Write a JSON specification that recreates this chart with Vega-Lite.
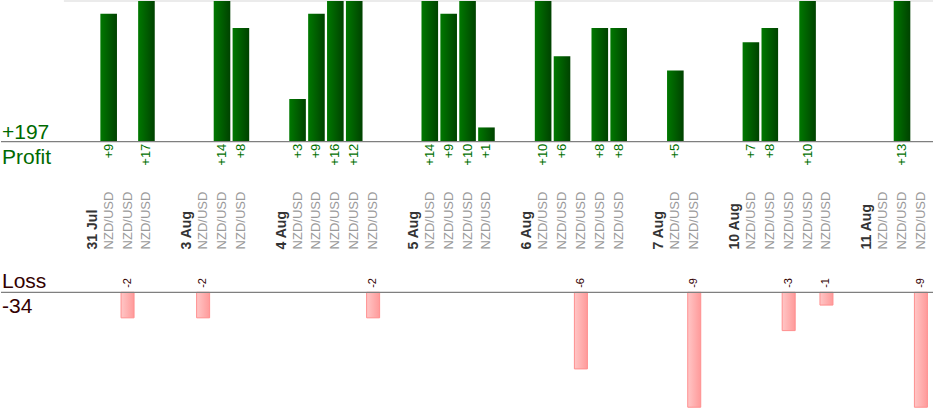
{
  "$schema": "https://vega.github.io/schema/vega-lite/v6.json",
  "width": 934,
  "height": 420,
  "autosize": {"type": "fit", "contains": "padding"},
  "padding": 0,
  "config": {"view": {"stroke": null}, "font": "Liberation Sans", "scale": {"continuousPadding": 0}},
  "data": {
    "values": [
      {"slot": 0, "label": "31 Jul", "kind": "date"},
      {"slot": 1, "label": "NZD/USD", "kind": "trade", "pips": 9},
      {"slot": 2, "label": "NZD/USD", "kind": "trade", "pips": -2},
      {"slot": 3, "label": "NZD/USD", "kind": "trade", "pips": 17},
      {"slot": 5, "label": "3 Aug", "kind": "date"},
      {"slot": 6, "label": "NZD/USD", "kind": "trade", "pips": -2},
      {"slot": 7, "label": "NZD/USD", "kind": "trade", "pips": 14},
      {"slot": 8, "label": "NZD/USD", "kind": "trade", "pips": 8},
      {"slot": 10, "label": "4 Aug", "kind": "date"},
      {"slot": 11, "label": "NZD/USD", "kind": "trade", "pips": 3},
      {"slot": 12, "label": "NZD/USD", "kind": "trade", "pips": 9},
      {"slot": 13, "label": "NZD/USD", "kind": "trade", "pips": 16},
      {"slot": 14, "label": "NZD/USD", "kind": "trade", "pips": 12},
      {"slot": 15, "label": "NZD/USD", "kind": "trade", "pips": -2},
      {"slot": 17, "label": "5 Aug", "kind": "date"},
      {"slot": 18, "label": "NZD/USD", "kind": "trade", "pips": 14},
      {"slot": 19, "label": "NZD/USD", "kind": "trade", "pips": 9},
      {"slot": 20, "label": "NZD/USD", "kind": "trade", "pips": 10},
      {"slot": 21, "label": "NZD/USD", "kind": "trade", "pips": 1},
      {"slot": 23, "label": "6 Aug", "kind": "date"},
      {"slot": 24, "label": "NZD/USD", "kind": "trade", "pips": 10},
      {"slot": 25, "label": "NZD/USD", "kind": "trade", "pips": 6},
      {"slot": 26, "label": "NZD/USD", "kind": "trade", "pips": -6},
      {"slot": 27, "label": "NZD/USD", "kind": "trade", "pips": 8},
      {"slot": 28, "label": "NZD/USD", "kind": "trade", "pips": 8},
      {"slot": 30, "label": "7 Aug", "kind": "date"},
      {"slot": 31, "label": "NZD/USD", "kind": "trade", "pips": 5},
      {"slot": 32, "label": "NZD/USD", "kind": "trade", "pips": -9},
      {"slot": 34, "label": "10 Aug", "kind": "date"},
      {"slot": 35, "label": "NZD/USD", "kind": "trade", "pips": 7},
      {"slot": 36, "label": "NZD/USD", "kind": "trade", "pips": 8},
      {"slot": 37, "label": "NZD/USD", "kind": "trade", "pips": -3},
      {"slot": 38, "label": "NZD/USD", "kind": "trade", "pips": 10},
      {"slot": 39, "label": "NZD/USD", "kind": "trade", "pips": -1},
      {"slot": 41, "label": "11 Aug", "kind": "date"},
      {"slot": 42, "label": "NZD/USD", "kind": "trade", "pips": 0},
      {"slot": 43, "label": "NZD/USD", "kind": "trade", "pips": 13},
      {"slot": 44, "label": "NZD/USD", "kind": "trade", "pips": -9}
    ]
  },
  "resolve": {"scale": {"y": "independent"}},
  "layer": [
    {
      "layer": [
        {
          "data": {"values": [{}]},
          "mark": {"type": "rule", "color": "#ebebeb", "strokeWidth": 2},
          "encoding": {
            "x": {"datum": -1.37, "type": "quantitative", "scale": {"domain": [-4.7, 44.64], "nice": false, "zero": false, "padding": 0}, "axis": null},
            "x2": {"datum": 44.64},
            "y": {"datum": 9.895, "type": "quantitative", "scale": {"domain": [-19.58, 9.895], "nice": false, "zero": false}, "axis": null}
          }
        },
        {
          "transform": [{"filter": "datum.pips > 0"}],
          "mark": {
            "type": "bar",
            "clip": true,
            "width": 16.6,
            "color": {
              "gradient": "linear", "x1": 0, "x2": 1, "y1": 0, "y2": 0,
              "stops": [{"offset": 0, "color": "#007800"}, {"offset": 1, "color": "#004200"}]
            }
          },
          "encoding": {
            "x": {"field": "slot", "type": "quantitative", "scale": {"domain": [-4.7, 44.64], "nice": false, "zero": false, "padding": 0}, "axis": null},
            "y": {"field": "pips", "type": "quantitative", "scale": {"domain": [-19.58, 9.895], "nice": false, "zero": false}, "axis": null},
            "y2": {"datum": 0}
          }
        },
        {
          "data": {"values": [{}]},
          "mark": {"type": "rule", "color": "#7f7f7f", "strokeWidth": 1.3},
          "encoding": {
            "x": {"datum": -4.7, "type": "quantitative", "scale": {"domain": [-4.7, 44.64], "nice": false, "zero": false, "padding": 0}, "axis": null},
            "x2": {"datum": 44.64},
            "y": {"datum": 0, "type": "quantitative", "scale": {"domain": [-19.58, 9.895], "nice": false, "zero": false}, "axis": null}
          }
        },
        {
          "transform": [{"filter": "datum.pips > 0"}],
          "mark": {"type": "text", "angle": 270, "align": "right", "baseline": "middle", "fontSize": 13, "color": "#007000"},
          "encoding": {
            "x": {"field": "slot", "type": "quantitative", "scale": {"domain": [-4.7, 44.64], "nice": false, "zero": false, "padding": 0}, "axis": null},
            "y": {"datum": -0.14, "type": "quantitative", "scale": {"domain": [-19.58, 9.895], "nice": false, "zero": false}, "axis": null},
            "text": {"field": "pips", "type": "quantitative", "format": "+d"}
          }
        },
        {
          "transform": [{"filter": "datum.kind == 'trade'"}],
          "mark": {"type": "text", "angle": 270, "align": "left", "baseline": "middle", "fontSize": 13, "color": "#9a9a9a"},
          "encoding": {
            "x": {"field": "slot", "type": "quantitative", "scale": {"domain": [-4.7, 44.64], "nice": false, "zero": false, "padding": 0}, "axis": null},
            "y": {"datum": -7.58, "type": "quantitative", "scale": {"domain": [-19.58, 9.895], "nice": false, "zero": false}, "axis": null},
            "text": {"field": "label"}
          }
        },
        {
          "transform": [{"filter": "datum.kind == 'date'"}],
          "mark": {"type": "text", "angle": 270, "align": "left", "baseline": "middle", "fontSize": 14, "fontWeight": "bold", "color": "#333333", "dy": 3},
          "encoding": {
            "x": {"field": "slot", "type": "quantitative", "scale": {"domain": [-4.7, 44.64], "nice": false, "zero": false, "padding": 0}, "axis": null},
            "y": {"datum": -7.58, "type": "quantitative", "scale": {"domain": [-19.58, 9.895], "nice": false, "zero": false}, "axis": null},
            "text": {"field": "label"}
          }
        },
        {
          "transform": [
            {"filter": "datum.pips > 0"},
            {"aggregate": [{"op": "sum", "field": "pips", "as": "total"}]}
          ],
          "mark": {"type": "text", "align": "left", "baseline": "alphabetic", "fontSize": 21, "color": "#006a00", "dx": 1},
          "encoding": {
            "x": {"datum": -4.7, "type": "quantitative", "scale": {"domain": [-4.7, 44.64], "nice": false, "zero": false, "padding": 0}, "axis": null},
            "y": {"datum": 0.21, "type": "quantitative", "scale": {"domain": [-19.58, 9.895], "nice": false, "zero": false}, "axis": null},
            "text": {"field": "total", "type": "quantitative", "format": "+d"}
          }
        },
        {
          "data": {"values": [{}]},
          "mark": {"type": "text", "align": "left", "baseline": "alphabetic", "fontSize": 21, "color": "#006a00", "dx": 1, "text": "Profit"},
          "encoding": {
            "x": {"datum": -4.7, "type": "quantitative", "scale": {"domain": [-4.7, 44.64], "nice": false, "zero": false, "padding": 0}, "axis": null},
            "y": {"datum": -1.54, "type": "quantitative", "scale": {"domain": [-19.58, 9.895], "nice": false, "zero": false}, "axis": null}
          }
        }
      ]
    },
    {
      "layer": [
        {
          "transform": [{"filter": "datum.pips < 0"}],
          "mark": {
            "type": "bar",
            "width": 13,
            "stroke": "#ff8f8f",
            "strokeWidth": 1,
            "color": {
              "gradient": "linear", "x1": 0, "x2": 1, "y1": 0, "y2": 0,
              "stops": [{"offset": 0, "color": "#ffc6c6"}, {"offset": 1, "color": "#ff9a9a"}]
            }
          },
          "encoding": {
            "x": {"field": "slot", "type": "quantitative", "scale": {"domain": [-4.7, 44.64], "nice": false, "zero": false, "padding": 0}, "axis": null},
            "y": {"field": "pips", "type": "quantitative", "scale": {"domain": [-10, 22.81], "nice": false, "zero": false}, "axis": null},
            "y2": {"datum": 0}
          }
        },
        {
          "data": {"values": [{}]},
          "mark": {"type": "rule", "color": "#7f7f7f", "strokeWidth": 1.3},
          "encoding": {
            "x": {"datum": -4.7, "type": "quantitative", "scale": {"domain": [-4.7, 44.64], "nice": false, "zero": false, "padding": 0}, "axis": null},
            "x2": {"datum": 44.64},
            "y": {"datum": 0, "type": "quantitative", "scale": {"domain": [-10, 22.81], "nice": false, "zero": false}, "axis": null}
          }
        },
        {
          "transform": [
            {"filter": "datum.pips < 0"},
            {"calculate": "'' + datum.pips", "as": "pipsText"}
          ],
          "mark": {"type": "text", "angle": 270, "align": "left", "baseline": "middle", "fontSize": 11, "color": "#330000"},
          "encoding": {
            "x": {"field": "slot", "type": "quantitative", "scale": {"domain": [-4.7, 44.64], "nice": false, "zero": false, "padding": 0}, "axis": null},
            "y": {"datum": 0.35, "type": "quantitative", "scale": {"domain": [-10, 22.81], "nice": false, "zero": false}, "axis": null},
            "text": {"field": "pipsText"}
          }
        },
        {
          "data": {"values": [{}]},
          "mark": {"type": "text", "align": "left", "baseline": "alphabetic", "fontSize": 21, "color": "#330000", "dx": 1, "text": "Loss"},
          "encoding": {
            "x": {"datum": -4.7, "type": "quantitative", "scale": {"domain": [-4.7, 44.64], "nice": false, "zero": false, "padding": 0}, "axis": null},
            "y": {"datum": 0.31, "type": "quantitative", "scale": {"domain": [-10, 22.81], "nice": false, "zero": false}, "axis": null}
          }
        },
        {
          "transform": [
            {"filter": "datum.pips < 0"},
            {"aggregate": [{"op": "sum", "field": "pips", "as": "total"}]},
            {"calculate": "'' + datum.total", "as": "totalText"}
          ],
          "mark": {"type": "text", "align": "left", "baseline": "alphabetic", "fontSize": 21, "color": "#330000", "dx": 1},
          "encoding": {
            "x": {"datum": -4.7, "type": "quantitative", "scale": {"domain": [-4.7, 44.64], "nice": false, "zero": false, "padding": 0}, "axis": null},
            "y": {"datum": -1.64, "type": "quantitative", "scale": {"domain": [-10, 22.81], "nice": false, "zero": false}, "axis": null},
            "text": {"field": "totalText"}
          }
        }
      ]
    }
  ]
}
